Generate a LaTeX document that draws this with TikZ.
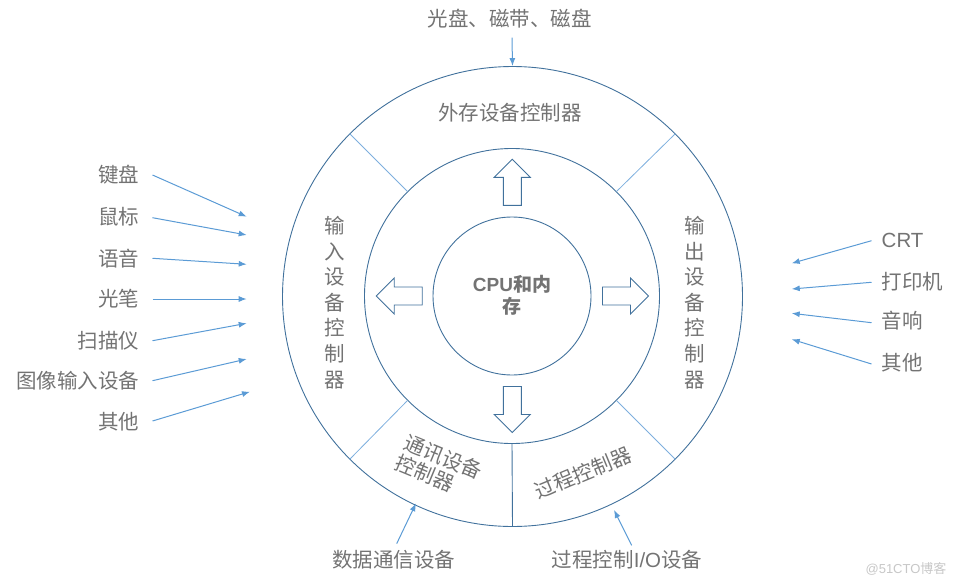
\documentclass[tikz,border=0pt]{standalone}
\usepackage{fontspec}
\setmainfont{Liberation Sans}
\newfontfamily\cjk{Noto Sans CJK SC}
\newfontfamily\lat{Liberation Sans}
\usetikzlibrary{arrows.meta}
\definecolor{circ}{RGB}{65,113,156}
\definecolor{arr}{RGB}{91,155,213}
\definecolor{divc}{RGB}{125,175,222}
\definecolor{txt}{RGB}{115,115,115}
\begin{document}
\begin{tikzpicture}[x=1pt,y=-1pt,
  lab/.style={text=txt,font=\cjk\fontsize{20.5}{24}\selectfont,inner sep=0pt},
  con/.style={draw=arr,line width=1pt,-{Latex[length=8pt,width=6pt]}},
  ring/.style={draw=circ,line width=0.9pt,circle,inner sep=0pt},
  blockarrow/.style={draw=circ,line width=0.9pt,fill=white,line join=miter},
  divline/.style={draw=divc,line width=0.8pt}]
\useasboundingbox (0,0) rectangle (957,586);

% rings
\node[ring,minimum size=460pt] (outer) at (512.5,296.5) {};
\node[ring,minimum size=295pt] (mid) at (512,296) {};
\node[ring,minimum size=158pt] (inner) at (512,296) {};

% dividers
\draw[divline] (mid.45) -- (outer.45);
\draw[divline] (mid.135) -- (outer.135);
\draw[divline] (mid.225) -- (outer.225);
\draw[divline] (mid.315) -- (outer.315);
\draw[draw=circ,line width=0.9pt] (mid.270) -- (outer.270);

% block arrows
\foreach \cx/\cy/\ang in {512.3/182.3/90, 512.3/409.5/-90, 399.2/296/180, 625.5/296/0}{
  \draw[blockarrow,shift={(\cx,\cy)},rotate=\ang]
    (-23,-9) -- (5,-9) -- (5,-18) -- (23,0) -- (5,18) -- (5,9) -- (-23,9) -- cycle;
}

% centre text
\node[text=txt,font=\cjk\bfseries\fontsize{19}{22}\selectfont,align=center,inner sep=0pt] (cpu) at (512,295) {{\lat\bfseries CPU}和内\\存};

% ring texts
\node[lab] (ext) at (510,113) {外存设备控制器};
\node[lab,font=\cjk\fontsize{20.5}{25.6}\selectfont,align=center] (inp) at (334.5,302.5) {输\\入\\设\\备\\控\\制\\器};
\node[lab,font=\cjk\fontsize{20.5}{25.6}\selectfont,align=center] (outp) at (694.5,302.5) {输\\出\\设\\备\\控\\制\\器};
\node[lab,font=\cjk\fontsize{20.5}{22}\selectfont,align=left,rotate=-22.5] (comm) at (439,467) {通讯设备\\控制器};
\node[lab,rotate=22.5] (proc) at (583,473) {过程控制器};

% top
\node[lab] (top) at (509.5,19) {光盘、磁带、磁盘};
\draw[con] ([xshift=2.5pt,yshift=-9pt]top.south) -- (outer.north);

% left inputs
\node[lab,anchor=east] (k1) at (139.5,175) {键盘};
\node[lab,anchor=east] (k2) at (139.5,216.7) {鼠标};
\node[lab,anchor=east] (k3) at (139.5,258.3) {语音};
\node[lab,anchor=east] (k4) at (139.5,299) {光笔};
\node[lab,anchor=east] (k5) at (139.5,340.7) {扫描仪};
\node[lab,anchor=east] (k6) at (139.5,380.7) {图像输入设备};
\node[lab,anchor=east] (k7) at (139.5,422) {其他};
\coordinate (t1) at (246.7,216.7);
\coordinate (t2) at (246.7,235);
\coordinate (t3) at (246.7,264.3);
\coordinate (t4) at (246.7,299);
\coordinate (t5) at (246.7,323.3);
\coordinate (t6) at (246.7,359);
\coordinate (t7) at (250,391.7);
\draw[con] ([xshift=13pt]k1.east) -- (t1);
\draw[con] ([xshift=13pt,yshift=-1pt]k2.east) -- (t2);
\draw[con] ([xshift=13pt]k3.east) -- (t3);
\draw[con] ([xshift=13pt]k4.east) -- (t4);
\draw[con] ([xshift=13pt]k5.east) -- (t5);
\draw[con] ([xshift=13pt]k6.east) -- (t6);
\draw[con] ([xshift=13pt,yshift=1pt]k7.east) -- (t7);

% right outputs
\node[lab,anchor=west] (r1) at (881.5,240) {\lat CRT};
\node[lab,anchor=west] (r2) at (881.5,281.7) {打印机};
\node[lab,anchor=west] (r3) at (881.5,321) {音响};
\node[lab,anchor=west] (r4) at (881.5,362.7) {其他};
\coordinate (u1) at (791.7,263.3);
\coordinate (u2) at (791.7,289);
\coordinate (u3) at (791.7,313.3);
\coordinate (u4) at (791.7,339.3);
\draw[con] ([xshift=-10pt,yshift=-0.7pt]r1.west) -- (u1);
\draw[con] ([xshift=-10pt,yshift=-0.6pt]r2.west) -- (u2);
\draw[con] ([xshift=-10pt,yshift=-1.7pt]r3.west) -- (u3);
\draw[con] ([xshift=-10pt,yshift=-1.3pt]r4.west) -- (u4);

% bottom
\node[lab] (b1) at (393.5,560) {数据通信设备};
\node[lab] (b2) at (627,560) {过程控制{\lat I/O}设备};
\coordinate (v1) at (416,503.3);
\coordinate (v2) at (614,510);
\draw[con] ([xshift=3.2pt,yshift=6.7pt]b1.north) -- (v1);
\draw[con] ([xshift=4.7pt,yshift=5pt]b2.north) -- (v2);

% watermark
\node[text=black!22,font=\lat\fontsize{13}{15}\selectfont,inner sep=0pt] (wm) at (906,569) {@51CTO{\cjk 博客}};
\end{tikzpicture}
\end{document}
